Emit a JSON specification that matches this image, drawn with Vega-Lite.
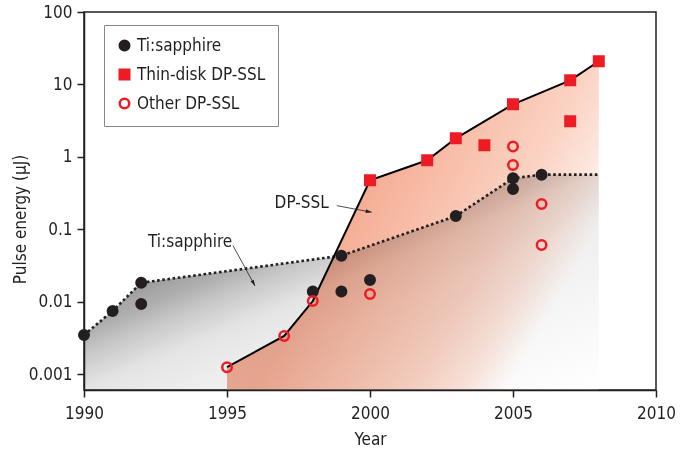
{
  "$schema": "https://vega.github.io/schema/vega-lite/v6.json",
  "width": 572,
  "height": 378,
  "autosize": {"type": "none"},
  "padding": {"left": 84, "top": 12, "right": 32, "bottom": 60},
  "background": "white",
  "config": {
    "font": "DejaVu Sans Condensed, sans-serif",
    "view": {"stroke": "#231f20", "strokeWidth": 1.5},
    "axis": {
      "domainColor": "#231f20", "domainWidth": 1.5,
      "tickColor": "#231f20", "tickWidth": 1.5, "tickSize": 7,
      "labelFontSize": 17, "labelColor": "#231f20",
      "titleFontSize": 17, "titleFontWeight": "normal", "titleColor": "#231f20",
      "grid": false, "labelFlush": false, "labelOverlap": false, "labelBound": false
    }
  },
  "datasets": {
    "pts": [
      {"year": 1990, "energy": 0.0035, "type": "Ti:sapphire"},
      {"year": 1991, "energy": 0.0075, "type": "Ti:sapphire"},
      {"year": 1992, "energy": 0.0184, "type": "Ti:sapphire"},
      {"year": 1992, "energy": 0.0094, "type": "Ti:sapphire"},
      {"year": 1998, "energy": 0.0139, "type": "Ti:sapphire"},
      {"year": 1999, "energy": 0.0435, "type": "Ti:sapphire"},
      {"year": 1999, "energy": 0.0139, "type": "Ti:sapphire"},
      {"year": 2000, "energy": 0.0201, "type": "Ti:sapphire"},
      {"year": 2003, "energy": 0.153, "type": "Ti:sapphire"},
      {"year": 2005, "energy": 0.508, "type": "Ti:sapphire"},
      {"year": 2005, "energy": 0.362, "type": "Ti:sapphire"},
      {"year": 2006, "energy": 0.57, "type": "Ti:sapphire"},
      {"year": 2000, "energy": 0.477, "type": "Thin-disk DP-SSL"},
      {"year": 2002, "energy": 0.9, "type": "Thin-disk DP-SSL"},
      {"year": 2003, "energy": 1.81, "type": "Thin-disk DP-SSL"},
      {"year": 2004, "energy": 1.45, "type": "Thin-disk DP-SSL"},
      {"year": 2005, "energy": 5.33, "type": "Thin-disk DP-SSL"},
      {"year": 2007, "energy": 11.4, "type": "Thin-disk DP-SSL"},
      {"year": 2007, "energy": 3.1, "type": "Thin-disk DP-SSL"},
      {"year": 2008, "energy": 20.9, "type": "Thin-disk DP-SSL"},
      {"year": 1995, "energy": 0.00126, "type": "Other DP-SSL"},
      {"year": 1997, "energy": 0.0034, "type": "Other DP-SSL"},
      {"year": 1998, "energy": 0.0103, "type": "Other DP-SSL"},
      {"year": 2000, "energy": 0.0129, "type": "Other DP-SSL"},
      {"year": 2005, "energy": 1.39, "type": "Other DP-SSL"},
      {"year": 2005, "energy": 0.776, "type": "Other DP-SSL"},
      {"year": 2006, "energy": 0.225, "type": "Other DP-SSL"},
      {"year": 2006, "energy": 0.061, "type": "Other DP-SSL"}
    ],
    "ti_env": [
      {"year": 1990, "energy": 0.0035},
      {"year": 1991, "energy": 0.0075},
      {"year": 1992, "energy": 0.0184},
      {"year": 1999, "energy": 0.0435},
      {"year": 2003, "energy": 0.153},
      {"year": 2005, "energy": 0.508},
      {"year": 2006, "energy": 0.57},
      {"year": 2008, "energy": 0.57}
    ],
    "dp_env": [
      {"year": 1995, "energy": 0.00126},
      {"year": 1997, "energy": 0.0034},
      {"year": 1998, "energy": 0.0103},
      {"year": 2000, "energy": 0.477},
      {"year": 2002, "energy": 0.9},
      {"year": 2003, "energy": 1.81},
      {"year": 2005, "energy": 5.33},
      {"year": 2007, "energy": 11.4},
      {"year": 2008, "energy": 20.9}
    ],
    "labels": [
      {"year": 1993.71, "energy": 0.0679, "label": "Ti:sapphire"},
      {"year": 1997.61, "energy": 0.2297, "label": "DP-SSL"}
    ],
    "arrow_ti": [{"year": 1995.21, "energy": 0.0598, "year2": 1995.98, "energy2": 0.0166}],
    "arrow_dp": [{"year": 1998.84, "energy": 0.213, "year2": 2000.06, "energy2": 0.173}],
    "baseline": [{"year": 1990, "year2": 2010}]
  },
  "encoding": {
    "x": {
      "field": "year", "type": "quantitative",
      "scale": {"domain": [1990, 2010], "nice": false, "zero": false},
      "axis": {
        "zindex": 1,
        "values": [1990, 1995, 2000, 2005, 2010], "format": "d",
        "labelPadding": 8, "title": "Year", "titleY": 54, "titleBaseline": "alphabetic"
      }
    },
    "y": {
      "field": "energy", "type": "quantitative",
      "scale": {"type": "log", "domain": [0.00061, 100], "nice": false},
      "axis": {
        "zindex": 1,
        "values": [0.001, 0.01, 0.1, 1, 10, 100], "format": "~g",
        "labelPadding": 5, "title": "Pulse energy (μJ)",
        "titleX": -59, "titleY": 207, "titleBaseline": "alphabetic", "titleAlign": "center", "titleAngle": 270
      }
    }
  },
  "layer": [
    {
      "data": {"name": "dp_env"},
      "mark": {
        "type": "area",
        "color": {
          "gradient": "linear", "x1": 0, "y1": 0, "x2": 1, "y2": 0.5,
          "stops": [
            {"offset": 0, "color": "#f4a288"},
            {"offset": 0.4, "color": "#f4b09a"},
            {"offset": 0.46, "color": "#f5ae96"},
            {"offset": 0.61, "color": "#f8bfaa"},
            {"offset": 0.8, "color": "#fbd4c5"},
            {"offset": 0.9, "color": "#fde5db"},
            {"offset": 1, "color": "#ffffff"}
          ]
        }
      },
      "encoding": {"y2": {"datum": 0.000625}}
    },
    {
      "data": {"name": "ti_env"},
      "mark": {
        "type": "area",
        "blend": "multiply",
        "color": {
          "gradient": "linear", "x1": 0, "y1": 0, "x2": 1, "y2": 1,
          "stops": [
            {"offset": 0, "color": "#7a7a7a"},
            {"offset": 0.3, "color": "#999999"},
            {"offset": 0.37, "color": "#b0b0b0"},
            {"offset": 0.42, "color": "#c8c8c8"},
            {"offset": 0.46, "color": "#d6d6d6"},
            {"offset": 0.5, "color": "#e4e4e4"},
            {"offset": 0.6, "color": "#eeeeee"},
            {"offset": 1, "color": "#ffffff"}
          ]
        }
      },
      "encoding": {"y2": {"datum": 0.000625}}
    },
    {
      "data": {"name": "baseline"},
      "mark": {"type": "rule", "color": "#231f20", "strokeWidth": 2},
      "encoding": {"x2": {"field": "year2"}, "y": {"datum": 0.00061}}
    },
    {
      "data": {"name": "ti_env"},
      "mark": {"type": "line", "color": "#231f20", "strokeWidth": 2.6, "strokeDash": [2.6, 2.6], "strokeCap": "butt"}
    },
    {
      "data": {"name": "dp_env"},
      "mark": {"type": "line", "color": "#000000", "strokeWidth": 2}
    },
    {
      "data": {"name": "arrow_ti"},
      "mark": {"type": "rule", "color": "#231f20", "strokeWidth": 0.8},
      "encoding": {"x2": {"field": "year2"}, "y2": {"field": "energy2"}}
    },
    {
      "data": {"name": "arrow_dp"},
      "mark": {"type": "rule", "color": "#231f20", "strokeWidth": 0.8},
      "encoding": {"x2": {"field": "year2"}, "y2": {"field": "energy2"}}
    },
    {
      "data": {"name": "arrow_ti"},
      "mark": {"type": "point", "shape": "M0,0L-0.6,-2L0.6,-2Z", "filled": true, "color": "#231f20", "size": 36, "angle": 331.4, "opacity": 1},
      "encoding": {"x": {"field": "year2", "type": "quantitative"}, "y": {"field": "energy2", "type": "quantitative"}}
    },
    {
      "data": {"name": "arrow_dp"},
      "mark": {"type": "point", "shape": "M0,0L-0.6,-2L0.6,-2Z", "filled": true, "color": "#231f20", "size": 36, "angle": 280.5, "opacity": 1},
      "encoding": {"x": {"field": "year2", "type": "quantitative"}, "y": {"field": "energy2", "type": "quantitative"}}
    },
    {
      "data": {"name": "labels"},
      "mark": {"type": "text", "fontSize": 17, "color": "#231f20", "align": "center", "baseline": "middle"},
      "encoding": {"text": {"field": "label"}}
    },
    {
      "data": {"name": "pts"},
      "mark": {"type": "point", "size": 90, "strokeWidth": 2.5, "opacity": 1},
      "encoding": {
        "shape": {
          "field": "type", "type": "nominal",
          "scale": {"domain": ["Ti:sapphire", "Thin-disk DP-SSL", "Other DP-SSL"], "range": ["circle", "square", "circle"]},
          "legend": {"orient": "none", "legendX": 20, "legendY": 13, "title": null, "padding": 12, "rowPadding": 8, "labelFontSize": 17, "labelColor": "#231f20", "strokeColor": "#888888", "fillColor": "white", "symbolSize": 90, "symbolStrokeWidth": 2.5, "labelOffset": 4}
        },
        "fill": {
          "field": "type", "type": "nominal",
          "scale": {"domain": ["Ti:sapphire", "Thin-disk DP-SSL", "Other DP-SSL"], "range": ["#231f20", "#ed1c24", "transparent"]},
          "legend": {"orient": "none", "legendX": 20, "legendY": 13, "title": null, "padding": 12, "rowPadding": 8, "labelFontSize": 17, "labelColor": "#231f20", "strokeColor": "#888888", "fillColor": "white", "symbolSize": 90, "symbolStrokeWidth": 2.5, "labelOffset": 4}
        },
        "stroke": {
          "field": "type", "type": "nominal",
          "scale": {"domain": ["Ti:sapphire", "Thin-disk DP-SSL", "Other DP-SSL"], "range": ["#231f20", "#ed1c24", "#ed1c24"]},
          "legend": {"orient": "none", "legendX": 20, "legendY": 13, "title": null, "padding": 12, "rowPadding": 8, "labelFontSize": 17, "labelColor": "#231f20", "strokeColor": "#888888", "fillColor": "white", "symbolSize": 90, "symbolStrokeWidth": 2.5, "labelOffset": 4}
        }
      }
    }
  ]
}
